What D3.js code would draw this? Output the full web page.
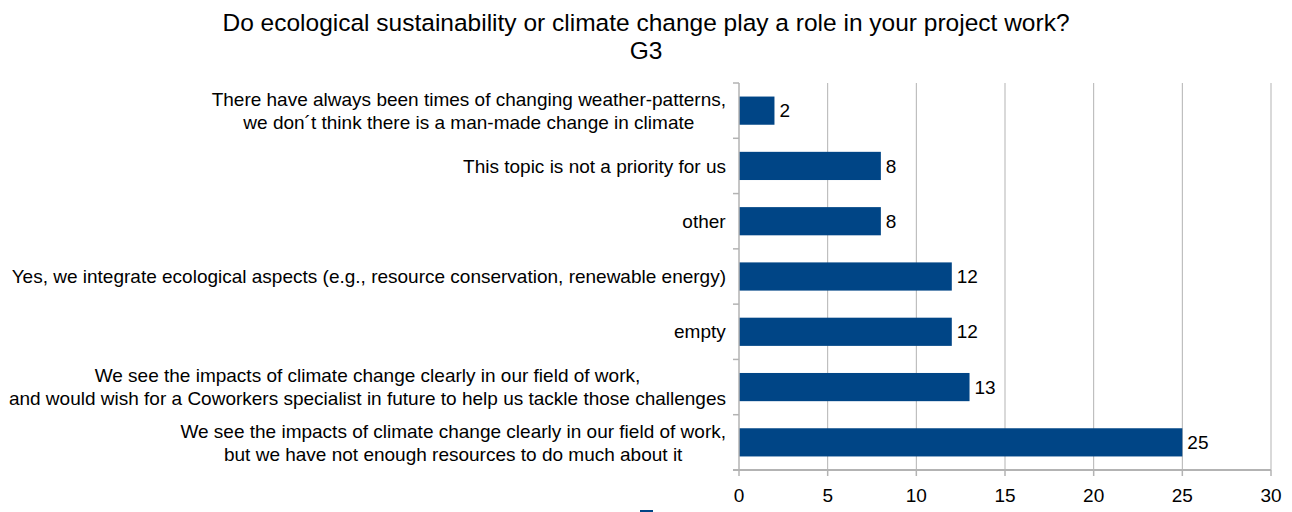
<!DOCTYPE html>
<html>
<head>
<meta charset="utf-8">
<script src="https://cdn.jsdelivr.net/npm/d3@7"></script>
<style>
  html, body { margin: 0; padding: 0; background: #fff; }
  svg { display: block; font-family: "Liberation Sans", Arial, sans-serif; }
</style>
</head>
<body>
<svg id="chart" width="1292" height="512"></svg>
<script>
// Survey answers, listed top to bottom (each entry = lines of the label)
const categories = [
  ["There have always been times of changing weather-patterns,", "we don´t think there is a man-made change in climate"],
  ["This topic is not a priority for us"],
  ["other"],
  ["Yes, we integrate ecological aspects (e.g., resource conservation, renewable energy)"],
  ["empty"],
  ["We see the impacts of climate change clearly in our field of work,", "and would wish for a Coworkers specialist in future to help us tackle those challenges"],
  ["We see the impacts of climate change clearly in our field of work,", "but we have not enough resources to do much about it"]
];
const counts = [2, 8, 8, 12, 12, 13, 25];
const xTicks = [0, 5, 10, 15, 20, 25, 30];
const titleLines = ["Do ecological sustainability or climate change play a role in your project work?", "G3"];

const svg = d3.select("#chart");
const margin = { left: 739, right: 1271, top: 83, bottom: 470 };
const labelSize = 19;

const x = d3.scaleLinear().domain([0, 30]).range([margin.left, margin.right]);
const y = d3.scaleBand()
  .domain(d3.range(categories.length))
  .range([margin.top, margin.bottom])
  .paddingInner(0.49)
  .paddingOuter(0.245);
const bands = d3.scaleBand()
  .domain(d3.range(categories.length))
  .range([margin.top, margin.bottom]);

const gridColor = "#b3b3b3";

// vertical grid lines
svg.append("g").selectAll("line")
  .data(xTicks.filter(t => t > 0))
  .join("line")
  .attr("x1", d => x(d)).attr("x2", d => x(d))
  .attr("y1", margin.top).attr("y2", margin.bottom)
  .attr("stroke", gridColor).attr("stroke-width", 1);

// bars
svg.append("g").selectAll("rect")
  .data(counts)
  .join("rect")
  .attr("x", x(0))
  .attr("y", (d, i) => y(i))
  .attr("width", d => x(d) - x(0))
  .attr("height", y.bandwidth())
  .attr("fill", "#004586");

// value labels
svg.append("g").selectAll("text")
  .data(counts)
  .join("text")
  .attr("x", d => x(d) + 5)
  .attr("y", (d, i) => y(i) + y.bandwidth() / 2)
  .attr("dy", "0.35em")
  .attr("font-size", labelSize)
  .attr("fill", "#000")
  .text(d => d);

// left axis line and category ticks
const yAxis = svg.append("g");
yAxis.append("line")
  .attr("x1", x(0)).attr("x2", x(0))
  .attr("y1", margin.top).attr("y2", margin.bottom)
  .attr("stroke", gridColor).attr("stroke-width", 1.5);
yAxis.selectAll("line.tick")
  .data(d3.range(categories.length + 1))
  .join("line").attr("class", "tick")
  .attr("x1", x(0) - 6).attr("x2", x(0))
  .attr("y1", d => margin.top + d * bands.step())
  .attr("y2", d => margin.top + d * bands.step())
  .attr("stroke", gridColor).attr("stroke-width", 1.5);

// category labels: centred lines, block right edge next to the axis
const lineH = 23;
yAxis.selectAll("text")
  .data(categories)
  .join("text")
  .attr("text-anchor", "middle")
  .attr("font-size", labelSize)
  .attr("fill", "#000")
  .each(function (lines, i) {
    const t = d3.select(this);
    const cy = bands(i) + bands.bandwidth() / 2;
    lines.forEach((s, k) => {
      t.append("tspan")
        .attr("x", 0)
        .attr("y", cy + (k - (lines.length - 1) / 2) * lineH)
        .attr("dy", "0.35em")
        .text(s);
    });
    const w = this.getBBox().width;
    t.selectAll("tspan").attr("x", x(0) - 13 - w / 2);
  });

// bottom axis
const xAxis = svg.append("g");
xAxis.append("line")
  .attr("x1", x(0) - 6).attr("x2", x(30))
  .attr("y1", margin.bottom).attr("y2", margin.bottom)
  .attr("stroke", gridColor).attr("stroke-width", 2);
xAxis.selectAll("line.tick")
  .data(xTicks)
  .join("line").attr("class", "tick")
  .attr("x1", d => x(d)).attr("x2", d => x(d))
  .attr("y1", margin.bottom).attr("y2", margin.bottom + 6)
  .attr("stroke", gridColor).attr("stroke-width", 1.5);
xAxis.selectAll("text")
  .data(xTicks)
  .join("text")
  .attr("x", d => x(d))
  .attr("y", 495)
  .attr("dy", "0.35em")
  .attr("text-anchor", "middle")
  .attr("font-size", labelSize)
  .attr("fill", "#000")
  .text(d => d);

// legend swatch, mostly below the visible area
svg.append("rect")
  .attr("x", 640).attr("y", 510)
  .attr("width", 13).attr("height", 13)
  .attr("fill", "#004586");

// title
svg.append("g").selectAll("text")
  .data(titleLines)
  .join("text")
  .attr("x", 646)
  .attr("y", (d, i) => 22 + i * 28)
  .attr("dy", "0.35em")
  .attr("text-anchor", "middle")
  .attr("font-size", 24.5)
  .attr("fill", "#000")
  .text(d => d);
</script>
</body>
</html>
